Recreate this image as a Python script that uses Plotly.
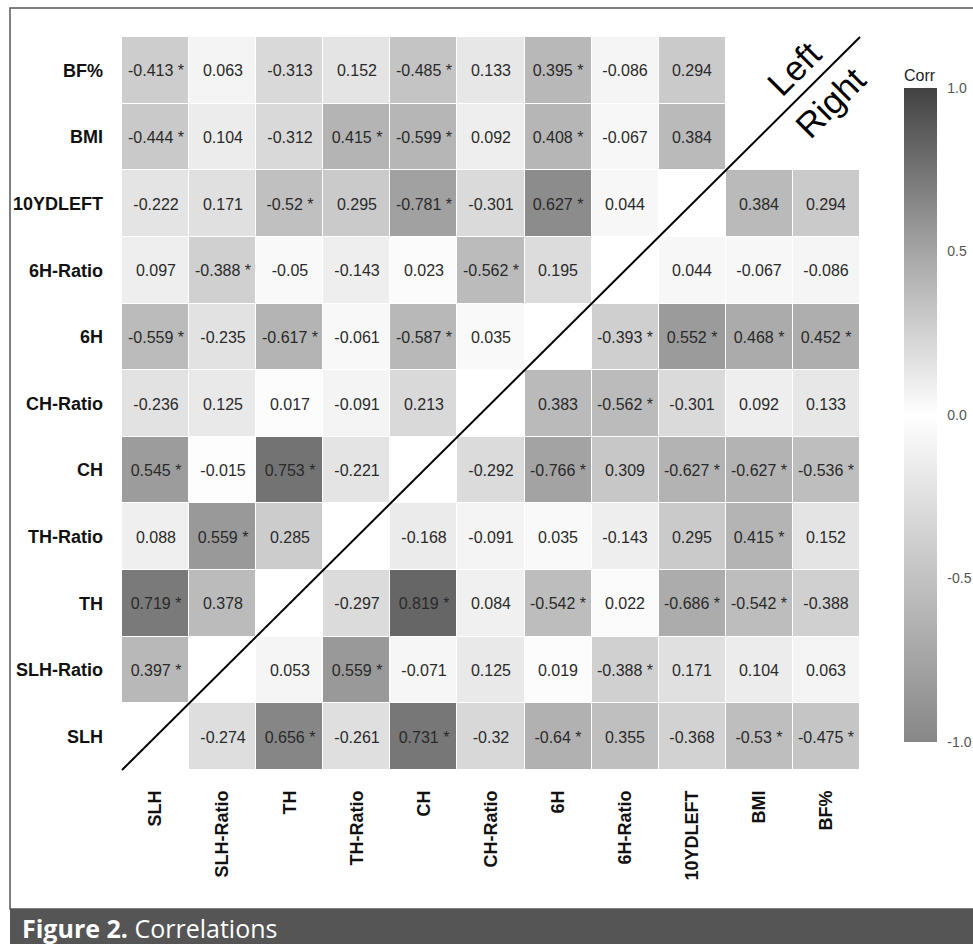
import plotly.graph_objects as go

variables = ["SLH", "SLH-Ratio", "TH", "TH-Ratio", "CH", "CH-Ratio",
             "6H", "6H-Ratio", "10YDLEFT", "BMI", "BF%"]

# correlation rows (row variable vs. columns in `variables` order); None = blank cell
r_SLH       = [None, -0.274, 0.656, -0.261, 0.731, -0.32, -0.64, 0.355, -0.368, -0.53, -0.475]
r_SLH_Ratio = [0.397, None, 0.053, 0.559, -0.071, 0.125, 0.019, -0.388, 0.171, 0.104, 0.063]
r_TH        = [0.719, 0.378, None, -0.297, 0.819, 0.084, -0.542, 0.022, -0.686, -0.542, -0.388]
r_TH_Ratio  = [0.088, 0.559, 0.285, None, -0.168, -0.091, 0.035, -0.143, 0.295, 0.415, 0.152]
r_CH        = [0.545, -0.015, 0.753, -0.221, None, -0.292, -0.766, 0.309, -0.627, -0.627, -0.536]
r_CH_Ratio  = [-0.236, 0.125, 0.017, -0.091, 0.213, None, 0.383, -0.562, -0.301, 0.092, 0.133]
r_6H        = [-0.559, -0.235, -0.617, -0.061, -0.587, 0.035, None, -0.393, 0.552, 0.468, 0.452]
r_6H_Ratio  = [0.097, -0.388, -0.05, -0.143, 0.023, -0.562, 0.195, None, 0.044, -0.067, -0.086]
r_10YDLEFT  = [-0.222, 0.171, -0.52, 0.295, -0.781, -0.301, 0.627, 0.044, None, 0.384, 0.294]
r_BMI       = [-0.444, 0.104, -0.312, 0.415, -0.599, 0.092, 0.408, -0.067, 0.384, None, None]
r_BF        = [-0.413, 0.063, -0.313, 0.152, -0.485, 0.133, 0.395, -0.086, 0.294, None, None]

# significance flags (1 = marked with *)
s_SLH       = [0, 0, 1, 0, 1, 0, 1, 0, 0, 1, 1]
s_SLH_Ratio = [1, 0, 0, 1, 0, 0, 0, 1, 0, 0, 0]
s_TH        = [1, 0, 0, 0, 1, 0, 1, 0, 1, 1, 0]
s_TH_Ratio  = [0, 1, 0, 0, 0, 0, 0, 0, 0, 1, 0]
s_CH        = [1, 0, 1, 0, 0, 0, 1, 0, 1, 1, 1]
s_CH_Ratio  = [0, 0, 0, 0, 0, 0, 0, 1, 0, 0, 0]
s_6H        = [1, 0, 1, 0, 1, 0, 0, 1, 1, 1, 1]
s_6H_Ratio  = [0, 1, 0, 0, 0, 1, 0, 0, 0, 0, 0]
s_10YDLEFT  = [0, 0, 1, 0, 1, 0, 1, 0, 0, 0, 0]
s_BMI       = [1, 0, 0, 1, 1, 0, 1, 0, 0, 0, 0]
s_BF        = [1, 0, 0, 0, 1, 0, 1, 0, 0, 0, 0]

colorbar_ticks = [-1.0, -0.5, 0.0, 0.5, 1.0]
colorbar_ticktext = ["-1.0", "-0.5", "0.0", "0.5", "1.0"]

z = [r_SLH, r_SLH_Ratio, r_TH, r_TH_Ratio, r_CH, r_CH_Ratio,
     r_6H, r_6H_Ratio, r_10YDLEFT, r_BMI, r_BF]
sig = [s_SLH, s_SLH_Ratio, s_TH, s_TH_Ratio, s_CH, s_CH_Ratio,
       s_6H, s_6H_Ratio, s_10YDLEFT, s_BMI, s_BF]

text = []
for zr, sr in zip(z, sig):
    row = []
    for v, s in zip(zr, sr):
        if v is None:
            row.append("")
        else:
            row.append(repr(v) + (" *" if s else ""))
    text.append(row)

colorscale = [
    [0.0, "rgb(135,135,135)"],
    [0.25, "rgb(194,194,194)"],
    [0.5, "rgb(255,255,255)"],
    [0.75, "rgb(165,165,165)"],
    [1.0, "rgb(66,66,66)"],
]

FONT = "Liberation Sans, Arial"

W, H = 973, 944
L, R, T, B = 122, 113, 37, 174
pw, ph = W - L - R, H - T - B

def px(xp):
    return (xp - L) / pw

def py(yp):
    return (H - B - yp) / ph

fig = go.Figure(go.Heatmap(
    x=variables, y=variables, z=z, text=text,
    texttemplate="%{text}",
    textfont=dict(family=FONT, size=16, color="#2a2a2a"),
    zmin=-1, zmax=1, colorscale=colorscale,
    xgap=1, ygap=1, hoverinfo="skip",
    colorbar=dict(
        title=dict(text="Corr", side="top",
                   font=dict(family=FONT, size=16, color="#222")),
        x=px(904), xanchor="left", xpad=0,
        y=py(742), yanchor="bottom", ypad=0,
        len=(742 - 66) / ph, lenmode="fraction", thickness=33,
        outlinewidth=0,
        tickvals=colorbar_ticks, ticktext=colorbar_ticktext,
        ticks="outside", tickcolor="rgba(0,0,0,0)", ticklen=8,
        tickfont=dict(family=FONT, size=14, color="#555"),
    ),
))

shapes = [
    # diagonal separating line
    dict(type="line", xref="x domain", yref="y domain", x0=0, y0=0, x1=1, y1=1,
         line=dict(color="black", width=2)),
    # outer frame
    dict(type="rect", xref="paper", yref="paper", x0=px(10), x1=px(990),
         y0=py(909), y1=py(8), line=dict(color="#555", width=1.5), fillcolor="rgba(0,0,0,0)",
         layer="below"),
    # caption bar
    dict(type="rect", xref="paper", yref="paper", x0=px(10), x1=px(990),
         y0=py(960), y1=py(909), line=dict(width=0), fillcolor="#555555"),
]

annotations = [
    dict(text="Left", xref="paper", yref="paper", x=px(794), y=py(69),
         xanchor="center", yanchor="middle",
         showarrow=False, textangle=-45,
         font=dict(family=FONT, size=35, color="black")),
    dict(text="Right", xref="paper", yref="paper", x=px(830), y=py(102),
         xanchor="center", yanchor="middle",
         showarrow=False, textangle=-45,
         font=dict(family=FONT, size=35, color="black")),
    dict(text="<b>Figure 2.</b> Correlations", xref="paper", yref="paper",
         x=px(20), y=py(928), xanchor="left", yanchor="middle", showarrow=False,
         font=dict(family="Open Sans", size=25, color="white")),
]

fig.update_layout(
    width=W, height=H,
    margin=dict(l=L, r=R, t=T, b=B, autoexpand=False),
    paper_bgcolor="white", plot_bgcolor="white",
    shapes=shapes, annotations=annotations,
    xaxis=dict(type="category", showgrid=False, zeroline=False, showline=False,
               tickangle=-90, ticks="", ticklabelstandoff=16,
               tickfont=dict(family=FONT, size=18, color="#111"),
               tickvals=variables, ticktext=["<b>" + v + "</b>" for v in variables]),
    yaxis=dict(type="category", showgrid=False, zeroline=False, showline=False,
               ticks="", ticklabelstandoff=18,
               tickfont=dict(family=FONT, size=18, color="#111"),
               tickvals=variables, ticktext=["<b>" + v + "</b>" for v in variables]),
)

fig.write_html("out.html", config={"displayModeBar": False},
               post_script="document.body.style.margin='0';document.body.style.overflow='hidden';")
